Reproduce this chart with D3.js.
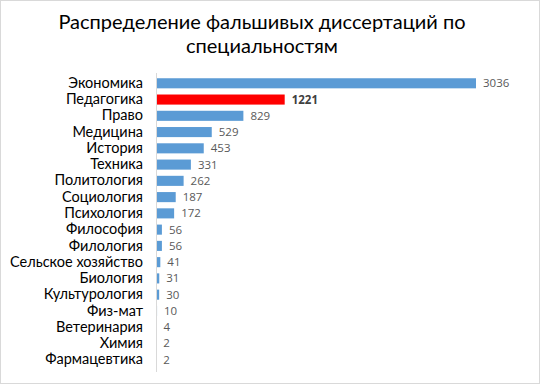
<!DOCTYPE html>
<html>
<head>
<meta charset="utf-8">
<script src="https://cdn.jsdelivr.net/npm/d3@7"></script>
<style>
  body { margin: 0; background: #fff; }
  svg { display: block; }
</style>
</head>
<body>
<div id="chart"></div>
<script>
// categories and counts, top to bottom
const categories = ["Экономика", "Педагогика", "Право", "Медицина", "История", "Техника",
  "Политология", "Социология", "Психология", "Философия", "Филология", "Сельское хозяйство",
  "Биология", "Культурология", "Физ-мат", "Ветеринария", "Химия", "Фармацевтика"];
const counts = [3036, 1221, 829, 529, 453, 331, 262, 187, 172, 56, 56, 41, 31, 30, 10, 4, 2, 2];
const highlight = ["Педагогика"];
const titleLines = ["Распределение фальшивых диссертаций по", "специальностям"];

const W = 541, H = 385;
const margin = {top: 75, left: 156, right: 65, bottom: 17};

const svg = d3.select("#chart").append("svg")
  .attr("width", W)
  .attr("height", H);

// outer frame
svg.append("rect")
  .attr("x", 0.5).attr("y", 0.5)
  .attr("width", W - 2).attr("height", H - 2)
  .attr("fill", "#fff")
  .attr("stroke", "#d9d9d9");

svg.selectAll(".title")
  .data(titleLines)
  .enter().append("text")
  .attr("class", "title")
  .attr("x", 262)
  .attr("y", (d, i) => 29 + i * 24)
  .attr("text-anchor", "middle")
  .style("font-family", "Lato, 'Open Sans', sans-serif")
  .style("font-size", "20px")
  .attr("fill", "#000")
  .text(d => d);

const x = d3.scaleLinear()
  .domain([0, 3036])
  .range([0, 320]);

const y = d3.scaleBand()
  .domain(categories)
  .range([margin.top, H - margin.bottom])
  .paddingInner(0.38)
  .paddingOuter(0.2);

const g = svg.append("g").attr("transform", `translate(${margin.left},0)`);

const rows = g.selectAll(".row")
  .data(categories.map((c, i) => ({name: c, value: counts[i]})))
  .enter().append("g")
  .attr("class", "row");

rows.append("rect")
  .attr("x", 0)
  .attr("y", d => y(d.name))
  .attr("width", d => x(d.value))
  .attr("height", y.bandwidth())
  .attr("fill", d => highlight.includes(d.name) ? "#ff0000" : "#5b9bd5");

rows.append("text")
  .attr("x", d => x(d.value) + 7)
  .attr("y", d => y(d.name) + y.bandwidth() / 2)
  .attr("dy", "0.35em")
  .style("font-family", "'Open Sans', 'Noto Sans', sans-serif")
  .style("font-size", "11.5px")
  .style("font-weight", d => highlight.includes(d.name) ? "bold" : "normal")
  .attr("fill", d => highlight.includes(d.name) ? "#404040" : "#595959")
  .text(d => d.value);

// category axis
const yAxis = d3.axisLeft(y).tickSize(0).tickPadding(13);
const ax = g.append("g").call(yAxis);
ax.select(".domain")
  .attr("stroke", "#d9d9d9")
  .attr("d", `M0.5,${margin.top - 2}V${H - margin.bottom + 4}`);
ax.selectAll("text")
  .style("font-family", "Lato, 'Open Sans', sans-serif")
  .style("font-size", "14.5px")
  .attr("fill", "#000");
</script>
</body>
</html>
